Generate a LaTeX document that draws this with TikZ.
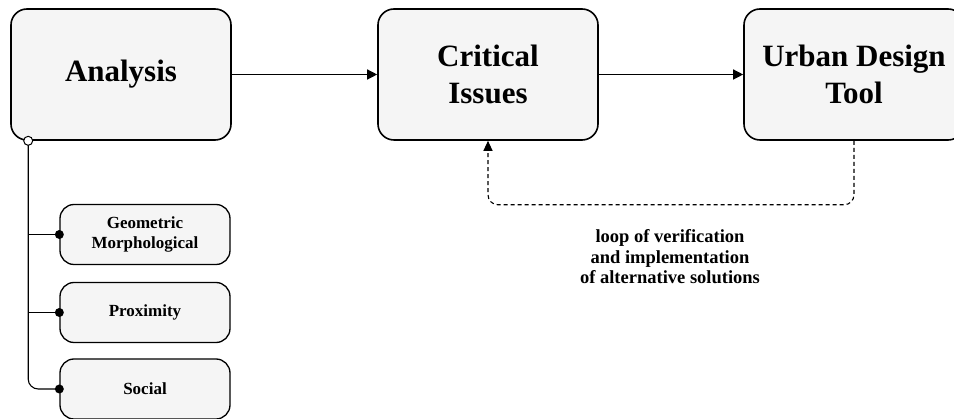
\documentclass[tikz,border=0pt]{standalone}
\usepackage{fontspec}
\setmainfont{Liberation Serif}
\usetikzlibrary{arrows.meta}
\definecolor{boxfill}{HTML}{F5F5F5}
\begin{document}
\begin{tikzpicture}[x=1pt,y=-1pt,
  bigbox/.style={draw=black, line width=1.6pt, fill=boxfill, rounded corners=16pt,
    minimum width=220pt, minimum height=131pt, align=center, inner sep=0pt,
    font=\fontsize{31}{37}\selectfont\bfseries},
  subbox/.style={draw=black, line width=1.3pt, fill=boxfill, rounded corners=14pt,
    minimum width=170pt, minimum height=60pt, align=center, inner sep=0pt,
    font=\fontsize{17}{20}\selectfont\bfseries},
  arr/.style={line width=1.3pt, -{Triangle[length=10pt,width=10pt]}},
  conn/.style={line width=1.1pt},
  dot/.style={circle, fill=black, inner sep=0pt, minimum size=9pt},
  odot/.style={circle, draw=black, line width=1pt, fill=white, inner sep=0pt, minimum size=9pt}
]
\useasboundingbox (0,0) rectangle (954,419);
\begin{scope}
\clip (0,0) rectangle (954,419);
\node[bigbox] (ana) at (121,74.5) {Analysis};
\node[bigbox] (crit) at (488,74.5) {Critical\\Issues};
\node[bigbox] (urb) at (854,74.5) {Urban Design\\Tool};

\node[subbox] (geo) at (145,234.5) {Geometric\\Morphological};
\node[subbox] (prox) at (145,312.5) {Proximity};
\node[subbox] (soc) at (145,389) {Social};

\draw[arr] (ana.east) -- (crit.west);
\draw[arr] (crit.east) -- (urb.west);

\draw[line width=1.1pt, dash pattern=on 4pt off 3pt, rounded corners=10pt, -{Triangle[length=10pt,width=9pt]}]
  (urb.south) -- ++(0,64) -| (crit.south);

\coordinate (c0) at ([xshift=18pt]ana.south west);
\draw[conn, rounded corners=10pt] (c0) |- (soc.west);
\draw[conn] (geo.west) -- (geo.west -| c0);
\draw[conn] (prox.west) -- (prox.west -| c0);
\node[odot] (oc) at (c0) {};
\node[dot] (d1) at (geo.west) {};
\node[dot] (d2) at (prox.west) {};
\node[dot] (d3) at (soc.west) {};

\node[align=center, font=\fontsize{18.5}{20.5}\selectfont\bfseries] (lbl) at (670,257)
  {loop of verification\\and implementation\\of alternative solutions};
\end{scope}
\end{tikzpicture}
\end{document}
